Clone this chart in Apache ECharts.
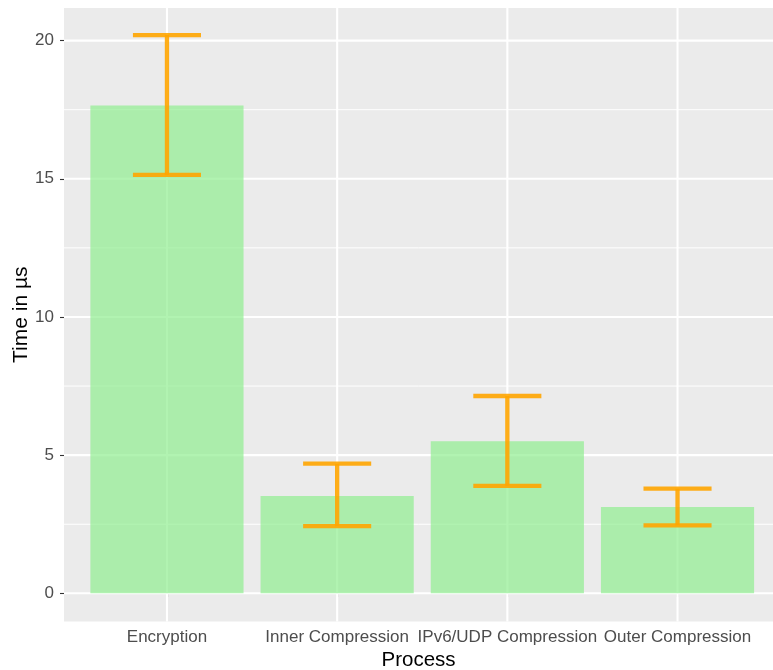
<!DOCTYPE html>
<html><head><meta charset="utf-8">
<script src="https://cdn.jsdelivr.net/npm/echarts@6/dist/echarts.min.js"></script>
<style>html,body{margin:0;padding:0;background:#fff}#c{width:773px;height:670px}</style>
</head><body><div id="c"></div>
<script>
const categories = ["Encryption", "Inner Compression", "IPv6/UDP Compression", "Outer Compression"];
const means = [17.65, 3.52, 5.50, 3.12];
const errLow = [15.14, 2.43, 3.89, 2.46];
const errHigh = [20.20, 4.69, 7.14, 3.79];
const yTicks = [0, 5, 10, 15, 20];
const yMinor = [2.5, 7.5, 12.5, 17.5];

const FONT = "Liberation Sans, Arial, sans-serif";
const chart = echarts.init(document.getElementById('c'));
const pos = categories.map((c, i) => i + 1);

const barData = pos.map((p, i) => [p, means[i]]);
const errData = pos.map((p, i) => [p, errLow[i], errHigh[i]]);

chart.setOption({
  animation: false,
  backgroundColor: '#fff',
  grid: {left: 64, top: 8, right: 0, bottom: 48.5, show: true, backgroundColor: '#EBEBEB', borderWidth: 0,
    containLabel: false, outerBoundsMode: 'none'},
  xAxis: {
    type: 'value', min: 0.395, max: 4.561,
    splitLine: {show: false},
    axisLine: {show: false},
    axisTick: {show: true, length: 4, lineStyle: {color: '#333', width: 1.1}, customValues: pos},
    axisLabel: {customValues: pos, color: '#4D4D4D', fontSize: 17, fontFamily: FONT, margin: 7,
      formatter: v => categories[Math.round(v) - 1] || ''},
    name: 'Process', nameLocation: 'middle', nameGap: 28, nameMoveOverlap: false,
    nameTextStyle: {color: '#000', fontSize: 20.5, fontFamily: FONT}
  },
  yAxis: {
    type: 'value', min: -1.02, max: 21.18,
    splitLine: {show: false},
    axisLine: {show: false},
    axisTick: {show: true, length: 4, lineStyle: {color: '#333', width: 1.1}, customValues: yTicks},
    axisLabel: {customValues: yTicks, color: '#4D4D4D', fontSize: 17, fontFamily: FONT, margin: 10},
    name: 'Time in µs', nameLocation: 'middle', nameGap: 32, nameMoveOverlap: false,
    nameTextStyle: {color: '#000', fontSize: 21, fontFamily: FONT}
  },
  series: [
    {
      type: 'custom', silent: true, z: 1,
      data: [[0]],
      renderItem: function (params, api) {
        const cs = params.coordSys;
        const children = [];
        yMinor.forEach(v => {
          const y = api.coord([1, v])[1];
          children.push({type: 'line', shape: {x1: cs.x, y1: y, x2: cs.x + cs.width, y2: y}, style: {stroke: '#fff', lineWidth: 1}});
        });
        yTicks.forEach(v => {
          const y = api.coord([1, v])[1];
          children.push({type: 'line', shape: {x1: cs.x, y1: y, x2: cs.x + cs.width, y2: y}, style: {stroke: '#fff', lineWidth: 2.1}});
        });
        pos.forEach(v => {
          const x = api.coord([v, 0])[0];
          children.push({type: 'line', shape: {x1: x, y1: cs.y, x2: x, y2: cs.y + cs.height}, style: {stroke: '#fff', lineWidth: 2.1}});
        });
        return {type: 'group', children: children};
      }
    },
    {
      type: 'custom', z: 2,
      data: barData,
      renderItem: function (params, api) {
        const x = api.value(0), v = api.value(1);
        const p1 = api.coord([x - 0.45, v]);
        const p2 = api.coord([x + 0.45, 0]);
        return {type: 'rect', shape: {x: p1[0], y: p1[1], width: p2[0] - p1[0], height: p2[1] - p1[1]},
          style: {fill: 'rgba(144,238,144,0.7)'}};
      }
    },
    {
      type: 'custom', z: 3,
      data: errData,
      renderItem: function (params, api) {
        const x = api.value(0), lo = api.value(1), hi = api.value(2);
        const pl = api.coord([x, lo]), ph = api.coord([x, hi]);
        const a = api.coord([x - 0.2, 0])[0], b = api.coord([x + 0.2, 0])[0];
        const st = {stroke: 'rgba(255,165,0,0.9)', lineWidth: 4.3};
        return {type: 'group', children: [
          {type: 'line', shape: {x1: pl[0], y1: pl[1], x2: ph[0], y2: ph[1]}, style: st},
          {type: 'line', shape: {x1: a, y1: ph[1], x2: b, y2: ph[1]}, style: st},
          {type: 'line', shape: {x1: a, y1: pl[1], x2: b, y2: pl[1]}, style: st}
        ]};
      }
    }
  ]
});
</script></body></html>
